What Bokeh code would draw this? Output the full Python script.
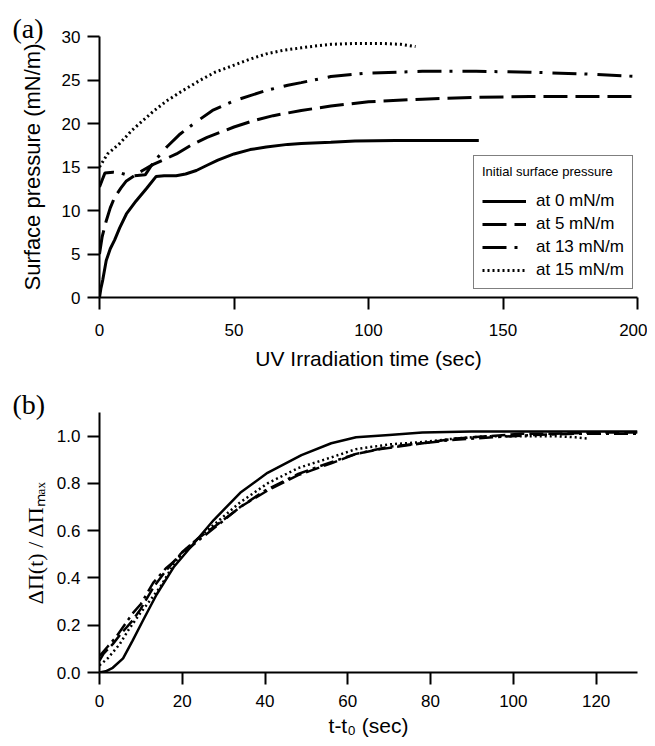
from bokeh.plotting import figure
from bokeh.models import (Range1d, Legend, LegendItem, FixedTicker, PrintfTickFormatter)
from bokeh.layouts import column
from bokeh.embed import file_html
from bokeh.resources import INLINE

# ---------------- Panel (a): surface pressure vs UV irradiation time ----------------
a_t0 = [0, 0.5, 1.2, 2.5, 4, 5.6, 7.5, 10, 13.6, 17.4, 21, 24, 28.5, 32, 36, 40, 44, 50, 56,
        62, 70, 75, 86, 95, 110, 125, 141]
a_p0 = [0, 1.0, 2.0, 4.25, 5.6, 6.6, 8.0, 9.6, 11.1, 12.5, 13.9, 14.0, 14.0, 14.2, 14.6, 15.2,
        15.8, 16.5, 17.0, 17.3, 17.6, 17.7, 17.85, 18.0, 18.05, 18.05, 18.05]

a_t5 = [0, 1, 2.5, 4, 5.6, 8, 10, 13, 16, 20, 25, 28.6, 34, 40, 45, 50, 57, 64.6, 75, 86,
        100, 120, 140, 160, 180, 200]
a_p5 = [5.0, 7.0, 8.8, 10.3, 11.5, 12.6, 13.4, 14.0, 14.6, 15.3, 16.0, 16.5, 17.5, 18.4, 19.0,
        19.6, 20.3, 20.9, 21.5, 22.0, 22.5, 22.8, 23.0, 23.1, 23.1, 23.1]

a_t13 = [0, 1, 2, 5, 8, 10, 13, 17, 20, 25, 30, 36, 42, 50, 56, 62, 70, 75, 86, 100, 120, 140,
         160, 180, 200]
a_p13 = [12.7, 13.5, 14.3, 14.4, 14.3, 14.1, 14.0, 14.1, 15.5, 17.3, 18.8, 20.2, 21.5, 22.6,
         23.2, 23.8, 24.4, 24.7, 25.4, 25.8, 26.0, 26.0, 25.9, 25.7, 25.4]

a_t15 = [0, 3, 7.5, 12, 16, 20, 25, 30, 37, 43, 50, 56, 62, 68, 75, 80, 86, 95, 105, 112, 117.5]
a_p15 = [15.0, 16.5, 17.7, 19.2, 20.3, 21.4, 22.6, 23.6, 24.9, 25.9, 26.7, 27.4, 28.0, 28.4,
         28.7, 28.9, 29.1, 29.2, 29.2, 29.1, 28.85]

a_xticks = [0, 50, 100, 150, 200]
a_yticks = [0, 5, 10, 15, 20, 25, 30]
legend_labels = ["at 0 mN/m", "at 5 mN/m", "at 13 mN/m", "at 15 mN/m"]

# ---------------- Panel (b): normalized pressure change vs t - t0 ----------------
b_t0 = [0, 1.5, 3.2, 5.7, 8, 10.5, 13.8, 17.9, 22, 27.6, 34, 40.6, 48.8, 56, 62, 70, 78, 90,
        100, 110, 120, 130]
b_v0 = [0, 0.005, 0.02, 0.06, 0.135, 0.22, 0.33, 0.445, 0.53, 0.645, 0.76, 0.845, 0.92, 0.97,
        0.995, 1.005, 1.015, 1.02, 1.02, 1.02, 1.02, 1.02]

b_t5 = [0, 1, 3.2, 5, 8, 10, 13, 16, 18, 20, 24, 27.6, 34, 40.6, 48, 56, 62, 68, 74, 80, 86,
        94, 102, 110, 120, 130]
b_v5 = [0.05, 0.08, 0.12, 0.16, 0.22, 0.27, 0.36, 0.43, 0.47, 0.51, 0.57, 0.615, 0.70, 0.77,
        0.835, 0.885, 0.925, 0.945, 0.96, 0.975, 0.99, 1.0, 1.01, 1.01, 1.015, 1.015]

b_t13 = [0, 2, 4, 6, 8, 10, 13, 16, 18, 20, 24, 28, 34, 40, 48, 56, 62, 70, 78, 86, 95, 105,
         115, 125, 130]
b_v13 = [0.07, 0.11, 0.15, 0.20, 0.25, 0.29, 0.38, 0.44, 0.47, 0.50, 0.56, 0.615, 0.70, 0.77,
         0.84, 0.89, 0.925, 0.955, 0.97, 0.985, 0.995, 1.005, 1.01, 1.01, 1.01]

b_t15 = [0, 2, 4.9, 7, 9.8, 12, 14.6, 17, 19.5, 24, 27.6, 34, 40.6, 48, 56, 62, 70, 78, 86,
         94, 102, 110, 115, 118]
b_v15 = [0.03, 0.06, 0.12, 0.18, 0.25, 0.30, 0.36, 0.43, 0.50, 0.57, 0.625, 0.72, 0.80, 0.865,
         0.91, 0.945, 0.965, 0.975, 0.99, 1.0, 1.0, 1.0, 0.995, 0.99]

b_xticks = [0, 20, 40, 60, 80, 100, 120]
b_yticks = [0.0, 0.2, 0.4, 0.6, 0.8, 1.0]

SANS = "Liberation Sans"
SERIF = "Liberation Serif"


def style(p, panel_tag):
    p.outline_line_color = None
    p.xgrid.visible = False
    p.ygrid.visible = False
    p.background_fill_color = "white"
    p.border_fill_color = "white"
    p.title.text = panel_tag
    p.title.align = "left"
    p.title.offset = -87
    p.title.standoff = -14
    p.title.text_font = SERIF
    p.title.text_font_size = "28px"
    p.title.text_font_style = "normal"
    p.title.text_color = "black"
    for ax in p.axis:
        ax.axis_line_width = 2
        ax.axis_line_color = "black"
        ax.major_tick_line_width = 2
        ax.major_tick_line_color = "black"
        ax.major_tick_out = 12
        ax.major_tick_in = 0
        ax.minor_tick_out = 0
        ax.minor_tick_in = 0
        ax.major_label_text_font = SANS
        ax.major_label_text_font_size = "17px"
        ax.major_label_text_color = "black"
        ax.axis_label_text_font = SANS
        ax.axis_label_text_font_style = "normal"
        ax.axis_label_text_color = "black"


# ---------- figure (a) ----------
pa = figure(frame_width=538, frame_height=261, output_backend="svg", toolbar_location=None,
            x_range=Range1d(0, 200), y_range=Range1d(0, 30),
            min_border_left=99, min_border_right=10, min_border_top=36, min_border_bottom=83)
style(pa, "(a)")
pa.xaxis.ticker = FixedTicker(ticks=a_xticks)
pa.yaxis.ticker = FixedTicker(ticks=a_yticks)
pa.xaxis.axis_label = "UV Irradiation time (sec)"
pa.yaxis.axis_label = "Surface pressure (mN/m)"
pa.xaxis.axis_label_text_font_size = "21px"
pa.yaxis.axis_label_text_font_size = "22px"
pa.xaxis.major_label_standoff = 14
pa.yaxis.major_label_standoff = 7
pa.xaxis.axis_label_standoff = 8
pa.yaxis.axis_label_standoff = 14

ra0 = pa.line(a_t0, a_p0, line_color="black", line_width=3)
ra5 = pa.line(a_t5, a_p5, line_color="black", line_width=3, line_dash="24 8")
ra13 = pa.line(a_t13, a_p13, line_color="black", line_width=3, line_dash="24 8 3 10")
ra15 = pa.line(a_t15, a_p15, line_color="black", line_width=3, line_dash="2 3")

leg = Legend(items=[LegendItem(label=legend_labels[0], renderers=[ra0]),
                    LegendItem(label=legend_labels[1], renderers=[ra5]),
                    LegendItem(label=legend_labels[2], renderers=[ra13]),
                    LegendItem(label=legend_labels[3], renderers=[ra15])],
             location=(374, 8), title="Initial surface pressure")
leg.title_text_font = SANS
leg.title_text_font_size = "13px"
leg.title_text_font_style = "normal"
leg.title_text_color = "black"
leg.title_standoff = 12
leg.label_text_font = SANS
leg.label_text_font_size = "17px"
leg.label_text_color = "black"
leg.label_height = 20
leg.glyph_height = 20
leg.glyph_width = 44
leg.label_standoff = 10
leg.spacing = 3
leg.padding = 8
leg.margin = 0
leg.border_line_color = "black"
leg.border_line_width = 1.5
leg.background_fill_color = "white"
leg.background_fill_alpha = 1.0
pa.add_layout(leg)

# ---------- figure (b) ----------
pb = figure(frame_width=538, frame_height=260, output_backend="svg", toolbar_location=None,
            x_range=Range1d(0, 130), y_range=Range1d(0, 1.1),
            min_border_left=99, min_border_right=10, min_border_top=32, min_border_bottom=66)
style(pb, "(b)")
pb.xaxis.ticker = FixedTicker(ticks=b_xticks)
pb.yaxis.ticker = FixedTicker(ticks=b_yticks)
pb.yaxis.formatter = PrintfTickFormatter(format="%.1f")
pb.xaxis.axis_label = "t-t\u2080 (sec)"
pb.yaxis.axis_label = "\u0394\u03a0(t) / \u0394\u03a0\u2098\u2090\u2093"
pb.xaxis.axis_label_text_font_size = "21px"
pb.yaxis.axis_label_text_font = SERIF
pb.yaxis.axis_label_text_font_size = "22px"
pb.xaxis.major_label_standoff = 10
pb.yaxis.major_label_standoff = 7
pb.xaxis.axis_label_standoff = 4
pb.yaxis.axis_label_standoff = 6

pb.line(b_t0, b_v0, line_color="black", line_width=2.5)
pb.line(b_t5, b_v5, line_color="black", line_width=2.5, line_dash="14 5")
pb.line(b_t13, b_v13, line_color="black", line_width=2.5, line_dash="14 5 3 5")
pb.line(b_t15, b_v15, line_color="black", line_width=2.5, line_dash="2 3")

layout = column(pa, pb, spacing=0)
open("out.html", "w").write(file_html(layout, INLINE))
